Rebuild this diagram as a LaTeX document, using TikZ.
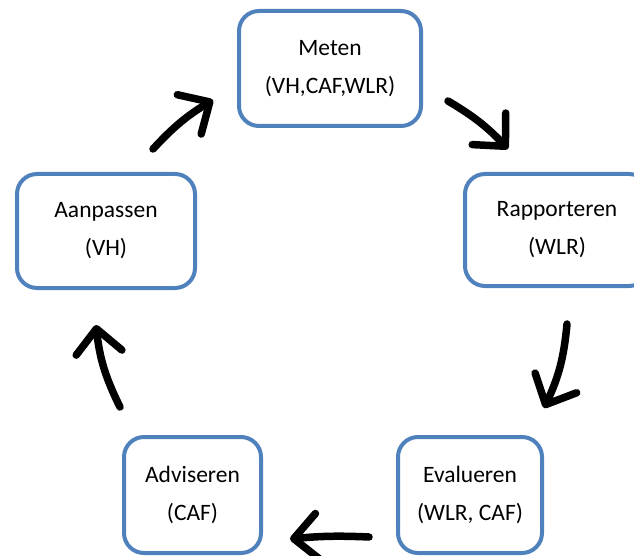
\documentclass[tikz,border=0pt]{standalone}
\usepackage{fontspec}
\setmainfont{Carlito}
\usetikzlibrary{arrows.meta}
\definecolor{boxblue}{RGB}{79,129,189}
\tikzset{
  stagebox/.style={draw=boxblue, line width=4pt, rounded corners=20pt, fill=white,
    align=center, font=\fontsize{23.5}{38}\selectfont, inner sep=0pt},
  cyclearrow/.style={line width=7.5pt, line cap=round,
    -{Straight Barb[length=24pt, width=46pt, line width=7.5pt, round]}}
}
\begin{document}
\begin{tikzpicture}[x=1pt,y=-1pt]
\useasboundingbox (0,0) rectangle (634,556);
\node[stagebox, minimum width=182pt, minimum height=115pt] (meten) at (330,68.5) {Meten\\(VH,CAF,WLR)};
\node[stagebox, minimum width=184pt, minimum height=112pt] (rapp) at (557,230) {Rapporteren\\(WLR)};
\node[stagebox, minimum width=178pt, minimum height=114pt] (aanp) at (106,231) {Aanpassen\\(VH)};
\node[stagebox, minimum width=137pt, minimum height=116pt] (advi) at (192.5,495) {Adviseren\\(CAF)};
\node[stagebox, minimum width=144pt, minimum height=116pt] (eval) at (470,495) {Evalueren\\(WLR, CAF)};

\coordinate (a1s) at (153,149);
\coordinate (a1e) at (213,100);
\coordinate (a2s) at (448,101);
\coordinate (a2e) at (508,149);
\coordinate (a3s) at (567,324);
\coordinate (a3e) at (544,408);
\coordinate (a4s) at (369,537);
\coordinate (a4e) at (290,539);
\coordinate (a5s) at (120,407);
\coordinate (a5e) at (96,325);

\draw[cyclearrow] (a1s) to[bend left=8] (a1e);
\draw[cyclearrow] (a2s) to[bend left=8] (a2e);
\draw[cyclearrow] (a3s) to[bend left=10] (a3e);
\draw[cyclearrow] (a4s) to[bend right=4] (a4e);
\draw[cyclearrow] (a5s) to[bend left=10] (a5e);
\end{tikzpicture}
\end{document}
